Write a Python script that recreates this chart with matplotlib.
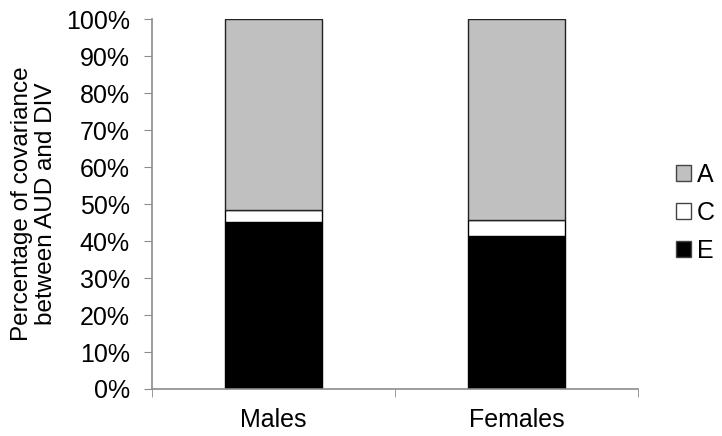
import matplotlib
matplotlib.use("Agg")
import matplotlib.pyplot as plt
from matplotlib.patches import Patch
from matplotlib.ticker import FixedLocator, PercentFormatter

plt.rcParams['font.family'] = ['Liberation Sans', 'DejaVu Sans']

# data (percent of covariance)
groups = ['Males', 'Females']
E = [45.2, 41.4]
C = [3.1, 4.4]
A = [51.7, 54.2]

colors = {'A': '#c0c0c0', 'C': '#ffffff', 'E': '#000000'}

fig = plt.figure(figsize=(7.22, 4.36), dpi=100)
ax = fig.add_axes([0.2105, 0.1078, 0.6737, 0.8486])

x = range(len(groups))
w = 0.40
bottom_c = E
bottom_a = [e + c for e, c in zip(E, C)]
ax.bar(x, E, w, color=colors['E'], edgecolor='black', linewidth=1)
ax.bar(x, C, w, bottom=bottom_c, color=colors['C'], edgecolor='black', linewidth=1)
ax.bar(x, A, w, bottom=bottom_a, color=colors['A'], edgecolor='#222222', linewidth=1)

ax.set_xlim(-0.5, 1.5)
ax.set_ylim(0, 100)
ax.set_yticks(range(0, 101, 10))
ax.yaxis.set_major_formatter(PercentFormatter(decimals=0))
ax.set_xticks(list(x))
ax.set_xticklabels(groups)
ax.xaxis.set_minor_locator(FixedLocator([-0.5, 0.5, 1.5]))

for s in ['top', 'right']:
    ax.spines[s].set_visible(False)
for s in ['left', 'bottom']:
    ax.spines[s].set_color('#8c8c8c')
    ax.spines[s].set_linewidth(1.2)

fs = 18
ax.tick_params(axis='y', direction='out', length=6, color='#8c8c8c', labelsize=fs, pad=10)
ax.tick_params(axis='x', which='major', length=0, labelsize=fs, pad=14)
ax.tick_params(axis='x', which='minor', direction='out', length=6, color='#8c8c8c')

ax.set_ylabel('Percentage of covariance\nbetween AUD and DIV', fontsize=17.5, labelpad=6,
              linespacing=1.15)

handles = [Patch(facecolor=colors[k], edgecolor='#444444', linewidth=1) for k in ['A', 'C', 'E']]
fig.legend(handles, ['A', 'C', 'E'], loc='center left', bbox_to_anchor=(0.936, 0.512),
           frameon=False, fontsize=fs, handlelength=0.6, handleheight=0.6,
           handletextpad=0.25, labelspacing=0.55, borderaxespad=0, borderpad=0)

fig.savefig('out.png', dpi=100)
